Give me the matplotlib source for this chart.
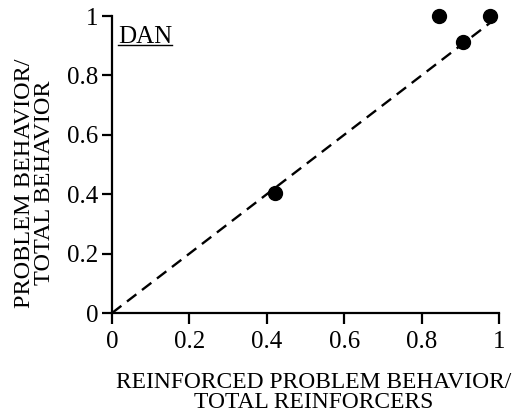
import matplotlib
matplotlib.use("Agg")
import matplotlib.pyplot as plt

x_vals = [0.42, 0.845, 0.907, 0.977]
y_vals = [0.404, 1.0, 0.912, 1.0]
ticks = [0, 0.2, 0.4, 0.6, 0.8, 1]
tick_labels = ["0", "0.2", "0.4", "0.6", "0.8", "1"]

plt.rcParams['font.family'] = ['Liberation Serif', 'DejaVu Serif']

fig = plt.figure(figsize=(5.13, 4.19), dpi=100)
ax = fig.add_axes([112/513, 1-313/419, 387/513, 297/419])

ax.plot([0, 1], [0, 1], ls=(0, (5, 3)), color='black', lw=1.7, clip_on=False)
ax.plot(x_vals, y_vals, 'o', color='black', ms=10, clip_on=False, zorder=3)

ax.set_xlim(0, 1)
ax.set_ylim(0, 1)
ax.set_xticks(ticks)
ax.set_xticklabels(tick_labels)
ax.set_yticks(ticks)
ax.set_yticklabels(tick_labels)
for s in ['top', 'right']:
    ax.spines[s].set_visible(False)
for s in ['left', 'bottom']:
    ax.spines[s].set_linewidth(1.6)
ax.tick_params(axis='y', direction='out', length=7, width=1.6, labelsize=18, pad=3)
ax.tick_params(axis='x', direction='out', length=8, width=1.6, labelsize=18, pad=5)

ax.set_xlabel("REINFORCED PROBLEM BEHAVIOR/\nTOTAL REINFORCERS", fontsize=16.9, linespacing=0.92, va='top')
ax.xaxis.set_label_coords(0.52, (313 - 372) / 297)
ax.set_ylabel("PROBLEM BEHAVIOR/\nTOTAL BEHAVIOR", fontsize=17.5, linespacing=0.92)
ax.yaxis.set_label_coords((55 - 112) / 387, (313 - 183) / 297)

t = ax.text(0.015, 0.91, "DAN", transform=ax.transAxes, fontsize=18, ha='left', va='baseline')
fig.canvas.draw()
bb = t.get_window_extent().transformed(ax.transAxes.inverted())
ax.plot([bb.x0, bb.x1], [0.902, 0.902], color='black', lw=1.0, transform=ax.transAxes, clip_on=False)

fig.savefig("out.png", dpi=100)
